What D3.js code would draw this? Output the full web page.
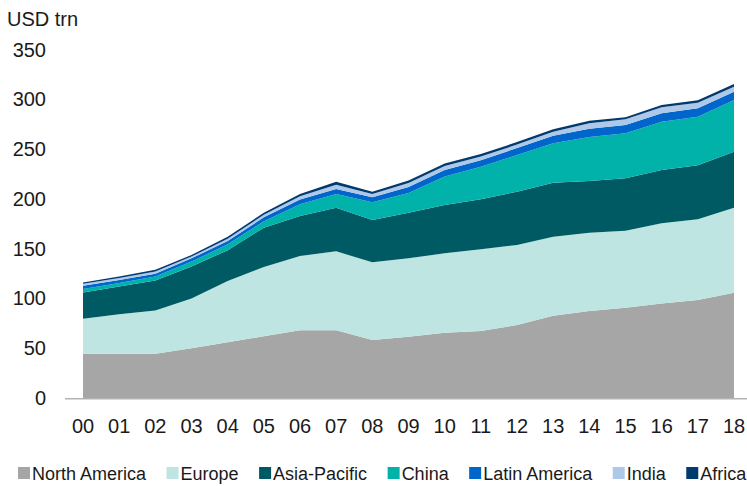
<!DOCTYPE html>
<html lang="en">
<head>
<meta charset="UTF-8">
<title>Stacked area – USD trn by region</title>
<script src="https://d3js.org/d3.v7.min.js"></script>
<style>
  body { margin: 0; background: #fff; font-family: "Liberation Sans", Arial, sans-serif; }
  svg { display: block; }
  .tick-label { font-size: 20px; fill: #1a1a1a; }
  .legend-label { font-size: 18px; fill: #1a1a1a; }
</style>
</head>
<body>
<svg id="chart" width="747" height="486"></svg>
<script>
const years = ["00","01","02","03","04","05","06","07","08","09","10","11","12","13","14","15","16","17","18"];
const regions = ["North America","Europe","Asia-Pacific","China","Latin America","India","Africa"];
const colors = ["#a6a6a6","#bee5e1","#005a64","#00b2aa","#0066cc","#adc8e8","#003a6e"];

const northAmerica = [44.5,44.5,44.5,50,56,62,68,68,58.2,61.5,65.6,67.3,73.3,82.7,87.4,90.7,95,98.4,105.7];
const europe       = [35,39.5,43.5,50,61.5,69.6,74.6,79.3,78.1,78.8,79.7,82,80.4,79.3,78.6,77.3,80.4,81.1,85.4];
const asiaPacific  = [26.5,28,30,32,31,39.4,40.2,43.8,42.5,45.7,48.5,50.3,53.5,54.2,52,52.7,53.6,54.2,56.3];
const china        = [3.5,3.5,4,5,5.8,6.5,11.7,13.7,17.7,20,28.7,32.7,36.8,39.6,44,45.1,48.5,48.8,51.9];
const latinAmerica = [3.2,3,2.7,3.3,3.3,4,4.9,5.1,5.1,6,6.5,6.5,7,7.5,8.5,8.4,8.4,8.4,8.3];
const india        = [2,2,2.3,1.7,2.3,2.5,3.1,4.2,3.2,4,4,3.7,3.5,4,5.5,5.8,6.1,5.7,5.1];
const africa       = [1.3,1.5,1.8,1.5,2,2,2.5,3,2.4,2.5,2.5,2.5,2.5,2.7,2.5,2,2.3,2.4,2.7];
const yTicks = [0,50,100,150,200,250,300,350];

const series = [northAmerica, europe, asiaPacific, china, latinAmerica, india, africa];
const rows = years.map((y, i) => {
  const r = { year: y };
  regions.forEach((name, k) => r[name] = series[k][i]);
  return r;
});

const svg = d3.select("#chart");
const x = d3.scalePoint().domain(years).range([83, 734]);
const y = d3.scaleLinear().domain([0, 350]).range([398, 49.5]);

const stack = d3.stack().keys(regions);
const layers = stack(rows);

const area = d3.area()
  .x(d => x(d.data.year))
  .y0(d => y(d[0]))
  .y1(d => y(d[1]));

svg.append("g").selectAll("path")
  .data(layers)
  .enter().append("path")
  .attr("d", area)
  .attr("fill", (d, i) => colors[i]);

// x axis baseline
svg.append("line")
  .attr("x1", 65).attr("x2", 747)
  .attr("y1", y(0) + 0.75).attr("y2", y(0) + 0.75)
  .attr("stroke", "#b3b3b3").attr("stroke-width", 1.5);

// y tick labels
svg.append("g").selectAll("text")
  .data(yTicks)
  .enter().append("text")
  .attr("class", "tick-label")
  .attr("x", 46)
  .attr("y", d => y(d) + 7)
  .attr("text-anchor", "end")
  .text(d => d);

svg.append("text")
  .attr("class", "tick-label")
  .attr("x", 7).attr("y", 26)
  .text("USD trn");

// x tick labels
svg.append("g").selectAll("text")
  .data(years)
  .enter().append("text")
  .attr("class", "tick-label")
  .attr("x", d => x(d))
  .attr("y", 433)
  .attr("text-anchor", "middle")
  .text(d => d);

// legend
const legend = svg.append("g");
let lx = 18;
regions.forEach((name, i) => {
  legend.append("rect")
    .attr("x", lx).attr("y", 467)
    .attr("width", 12).attr("height", 12)
    .attr("fill", colors[i]);
  const t = legend.append("text")
    .attr("class", "legend-label")
    .attr("x", lx + 14).attr("y", 480)
    .text(name);
  lx += 14 + t.node().getComputedTextLength() + 20.5;
});
</script>
</body>
</html>
